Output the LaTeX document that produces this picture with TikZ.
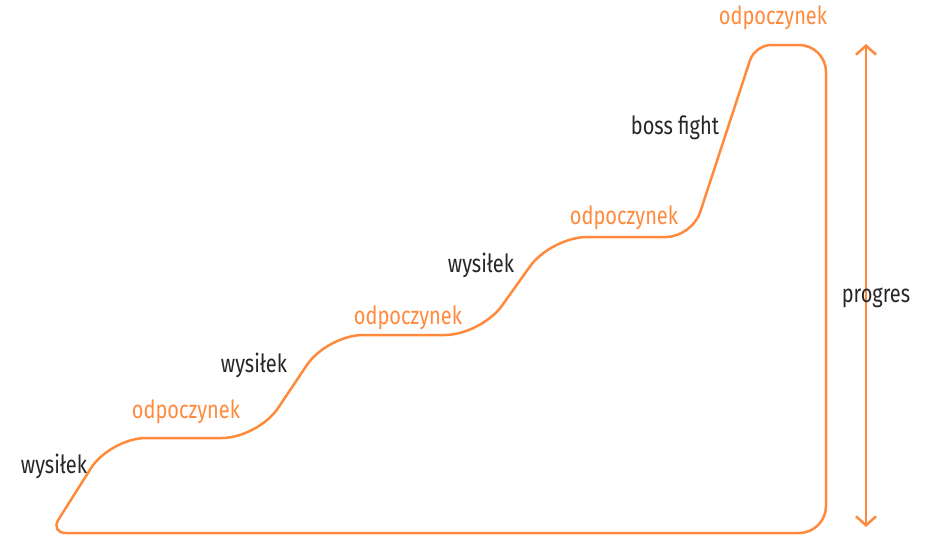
\documentclass[tikz,border=0pt]{standalone}
\usepackage{fontspec}
\setmainfont[FakeStretch=0.8]{Fira Sans}
\usetikzlibrary{arrows.meta}
\definecolor{peach}{RGB}{255,138,60}
\definecolor{ink}{RGB}{38,38,38}
\tikzstyle{rest} = [text=peach, font=\fontsize{25}{28}\selectfont, inner sep=0pt]
\tikzstyle{effort} = [text=ink, font=\fontsize{25}{28}\selectfont, inner sep=0pt]
\tikzstyle{outline} = [draw=peach, line width=2.5pt]
\tikzstyle{arrow} = [draw=peach, line width=2.5pt, {Straight Barb[length=9pt,width=20pt]}-{Straight Barb[length=9pt,width=20pt]}]

\begin{document}
\begin{tikzpicture}[x=1pt, y=-1pt]
                \useasboundingbox (0,0) rectangle (933,536);
                \draw [outline] (400,533) [rounded corners=16] -- (50,533)
                    [rounded corners=36] -- (110,438) -- (258,438) -- (327,335) -- (481,335) -- (551,237)
                    [rounded corners=26] -- (692,237) [rounded corners=16] -- (755,45)
                    [rounded corners=27] -- (826,45) -- (826,533) -- cycle;
                \coordinate (top) at (866,44);
                \coordinate (bottom) at (866,527);
                \draw [arrow] (bottom) -- (top);
                \node (rest1) [rest] at (186,412) {odpoczynek};
                \node (rest2) [rest] at (408,318) {odpoczynek};
                \node (rest3) [rest] at (624,218) {odpoczynek};
                \node (rest4) [rest] at (773,18) {odpoczynek};
                \node (effort1) [effort] at (54,466) {wysiłek};
                \node (effort2) [effort] at (254,365) {wysiłek};
                \node (effort3) [effort] at (481,265) {wysiłek};
                \node (boss) [effort] at (675,128) {boss fight};
                \node (progress) [effort] at (876,298) {progres};
            \end{tikzpicture}
\end{document}
